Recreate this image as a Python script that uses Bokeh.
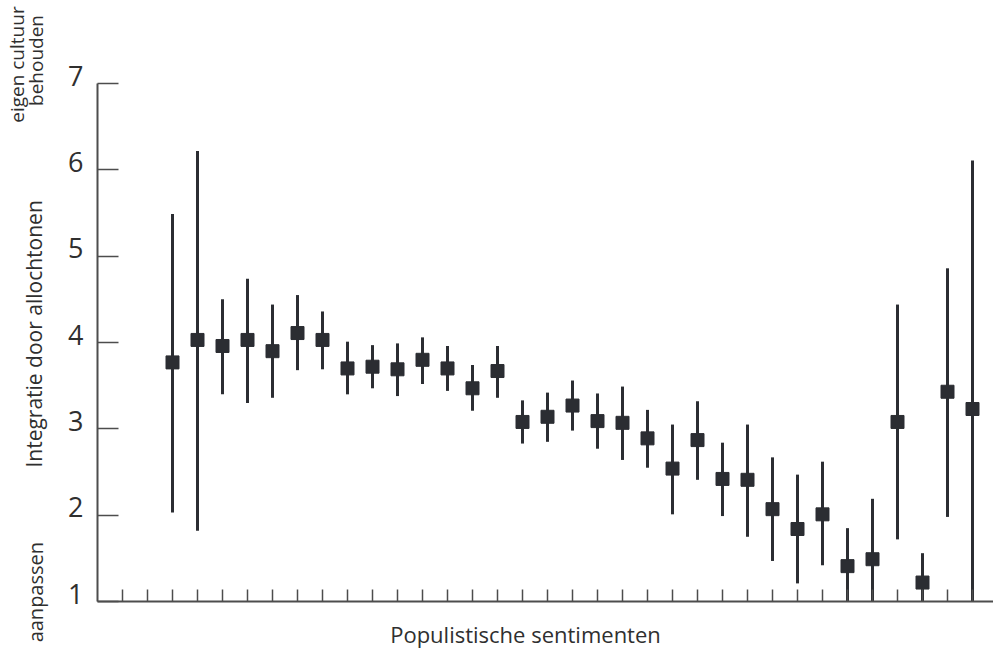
import math
from bokeh.plotting import figure
from bokeh.models import Range1d, FixedTicker, Label, CustomJSTickFormatter
from bokeh.embed import file_html
from bokeh.resources import INLINE

# ---- data ----
x_pos = [2, 3, 4, 5, 6, 7, 8, 9, 10, 11, 12, 13, 14, 15, 16, 17, 18,
         19, 20, 21, 22, 23, 24, 25, 26, 27, 28, 29, 30, 31, 32, 33, 34]
mean = [3.77, 4.03, 3.96, 4.03, 3.90, 4.11, 4.03, 3.70, 3.72, 3.69, 3.80,
        3.70, 3.47, 3.67, 3.08, 3.14, 3.27, 3.09, 3.07, 2.89, 2.54, 2.87,
        2.42, 2.41, 2.07, 1.84, 2.01, 1.41, 1.49, 3.08, 1.22, 3.43, 3.23]
upper = [5.49, 6.22, 4.50, 4.74, 4.44, 4.55, 4.36, 4.01, 3.97, 3.99, 4.06,
         3.96, 3.74, 3.96, 3.33, 3.42, 3.56, 3.41, 3.49, 3.22, 3.05, 3.32,
         2.84, 3.05, 2.67, 2.47, 2.62, 1.85, 2.19, 4.44, 1.56, 4.86, 6.11]
lower = [2.03, 1.82, 3.40, 3.30, 3.36, 3.68, 3.69, 3.40, 3.47, 3.38, 3.52,
         3.44, 3.21, 3.36, 2.83, 2.85, 2.98, 2.77, 2.64, 2.55, 2.01, 2.41,
         1.99, 1.75, 1.47, 1.21, 1.42, 1.00, 1.00, 1.72, 1.00, 1.98, 1.00]
x_ticks = list(range(0, 35))
y_ticks = [1, 2, 3, 4, 5, 6, 7]
y_tick_labels = ["1", "2", "3", "4", "5", "6", "7"]

x_title = "Populistische sentimenten"
y_title = "Integratie door allochtonen"
y_top_1 = "eigen cultuur"
y_top_2 = "behouden"
y_bottom = "aanpassen"

FONT = "Open Sans"
INK = "#2b2d32"
AXIS = "#4d4d4d"
TEXT = "#2f2f2f"

# the frame fills the whole canvas; axes sit at fixed data locations
p = figure(width=993, height=653, output_backend="svg", toolbar_location=None,
           x_range=Range1d(-4.88, 34.84), y_range=Range1d(0.398, 7.962),
           min_border=0)
p.outline_line_color = None
p.xgrid.visible = False
p.ygrid.visible = False
p.background_fill_color = "white"
p.border_fill_color = "white"

blank = CustomJSTickFormatter(code="return ''")

xa = p.xaxis[0]
xa.fixed_location = 1
xa.bounds = (-1, 34.84)
xa.ticker = FixedTicker(ticks=x_ticks)
xa.formatter = blank
xa.major_tick_in = 12
xa.major_tick_out = 0
xa.minor_tick_line_color = None
xa.axis_line_color = AXIS
xa.axis_line_width = 2
xa.major_tick_line_color = AXIS
xa.major_tick_line_width = 1.5

ya = p.yaxis[0]
ya.fixed_location = -1
ya.bounds = (1, 7)
ya.ticker = FixedTicker(ticks=y_ticks)
ya.formatter = blank
ya.major_tick_in = 21
ya.major_tick_out = 0
ya.minor_tick_line_color = None
ya.axis_line_color = AXIS
ya.axis_line_width = 2
ya.major_tick_line_color = AXIS
ya.major_tick_line_width = 1.5

# error bars and means
p.segment(x0=x_pos, y0=lower, x1=x_pos, y1=upper, line_color=INK, line_width=3)
p.scatter(x=x_pos, y=mean, marker="square", size=13, fill_color=INK, line_color=INK)

# y tick labels (sit a little above their tick, as in the source)
for yv, txt in zip(y_ticks, y_tick_labels):
    p.add_layout(Label(x=-1, y=yv, text=txt,
                       x_offset=-14, y_offset=8, text_align="right",
                       text_baseline="middle", text_font=FONT,
                       text_font_size="27px", text_color=TEXT))

# titles
p.add_layout(Label(x=16.12, y=0.629, text=x_title, text_align="center",
                   text_baseline="middle", text_font=FONT,
                   text_font_size="22px", text_color=TEXT))
p.add_layout(Label(x=-3.56, y=4.10, text=y_title, angle=math.pi / 2,
                   text_align="center", text_baseline="middle",
                   text_font=FONT, text_font_size="21px", text_color=TEXT))
p.add_layout(Label(x=-4.24, y=7.22, text=y_top_1, angle=math.pi / 2,
                   text_align="center", text_baseline="middle",
                   text_font=FONT, text_font_size="19px", text_color=TEXT))
p.add_layout(Label(x=-3.48, y=7.267, text=y_top_2, angle=math.pi / 2,
                   text_align="center", text_baseline="middle",
                   text_font=FONT, text_font_size="19px", text_color=TEXT))
p.add_layout(Label(x=-3.48, y=1.69, text=y_bottom, angle=math.pi / 2,
                   text_align="right", text_baseline="middle",
                   text_font=FONT, text_font_size="20px", text_color=TEXT))

open("out.html", "w").write(file_html(p, INLINE))
